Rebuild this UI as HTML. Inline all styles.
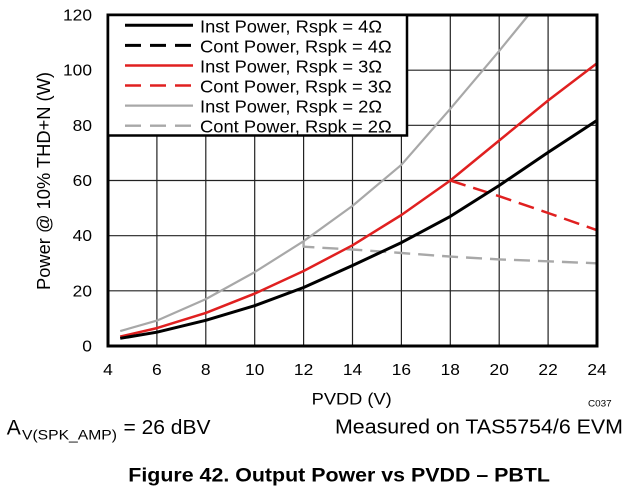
<!DOCTYPE html>
<html>
<head>
<meta charset="utf-8">
<style>
  html,body{margin:0;padding:0;background:#fff;}
  svg{display:block;}
  text{font-family:"Liberation Sans", Arial, sans-serif;fill:#000;}
</style>
</head>
<body>
<svg width="633" height="489" viewBox="0 0 633 489" xmlns="http://www.w3.org/2000/svg">
  <rect x="0" y="0" width="633" height="489" fill="#fff"/>
  <!-- grid -->
  <g stroke="#222" stroke-width="1.2">
    <line x1="156.9" y1="15" x2="156.9" y2="346"/>
    <line x1="205.8" y1="15" x2="205.8" y2="346"/>
    <line x1="254.7" y1="15" x2="254.7" y2="346"/>
    <line x1="303.6" y1="15" x2="303.6" y2="346"/>
    <line x1="352.5" y1="15" x2="352.5" y2="346"/>
    <line x1="401.4" y1="15" x2="401.4" y2="346"/>
    <line x1="450.3" y1="15" x2="450.3" y2="346"/>
    <line x1="499.2" y1="15" x2="499.2" y2="346"/>
    <line x1="548.1" y1="15" x2="548.1" y2="346"/>
    <line x1="108" y1="290.8" x2="597" y2="290.8"/>
    <line x1="108" y1="235.7" x2="597" y2="235.7"/>
    <line x1="108" y1="180.5" x2="597" y2="180.5"/>
    <line x1="108" y1="125.3" x2="597" y2="125.3"/>
    <line x1="108" y1="70.2" x2="597" y2="70.2"/>
  </g>

  <!-- series -->
  <g fill="none" stroke-linejoin="round" stroke-linecap="butt">
    <!-- gray inst 2 ohm -->
    <polyline stroke="#a8a8a8" stroke-width="2.2"
      points="120.2,331.1 156.9,320.6 205.8,299.1 254.7,272.1 303.6,241.2 352.5,205.9 401.4,164.8 450.3,108.8 499.2,50.9 528.5,15"/>
    <!-- gray cont 2 ohm -->
    <polyline stroke="#a8a8a8" stroke-width="2.4" stroke-dasharray="16 8"
      points="303.6,241.5 303.6,246.7 352.5,249.5 401.4,253.0 450.3,256.6 499.2,259.4 548.1,261.3 597,263.3"/>
    <!-- red inst 3 ohm -->
    <polyline stroke="#e02020" stroke-width="2.5"
      points="120.2,336.6 156.9,328.1 205.8,312.9 254.7,293.6 303.6,271.0 352.5,245.3 401.4,215.0 450.3,180.5 499.2,140.5 548.1,100.5 597,63.3"/>
    <!-- red cont 3 ohm -->
    <polyline stroke="#e02020" stroke-width="2.5" stroke-dasharray="16 8"
      points="450.3,180.5 499.2,196.2 548.1,213 597,230.2"/>
    <!-- black inst 4 ohm -->
    <polyline stroke="#000" stroke-width="3"
      points="120.2,338.3 156.9,332.2 205.8,320.3 254.7,305.7 303.6,287.5 352.5,265.5 401.4,242.6 450.3,216.4 499.2,185.5 548.1,152.4 597,120.4"/>
  </g>

  <!-- frame -->
  <rect x="108" y="15" width="489" height="331" fill="none" stroke="#000" stroke-width="3"/>

  <!-- legend -->
  <rect x="108" y="15" width="299" height="120.5" fill="#fff" stroke="#000" stroke-width="2.5"/>
  <g fill="none">
    <line x1="125" y1="25.3" x2="193" y2="25.3" stroke="#000" stroke-width="3"/>
    <line x1="125" y1="45.4" x2="193" y2="45.4" stroke="#000" stroke-width="3" stroke-dasharray="16 9"/>
    <line x1="125" y1="65.5" x2="193" y2="65.5" stroke="#e02020" stroke-width="2.5"/>
    <line x1="125" y1="85.5" x2="193" y2="85.5" stroke="#e02020" stroke-width="2.5" stroke-dasharray="16 9"/>
    <line x1="125" y1="105.6" x2="193" y2="105.6" stroke="#a8a8a8" stroke-width="2.2"/>
    <line x1="125" y1="125.7" x2="193" y2="125.7" stroke="#a8a8a8" stroke-width="2.4" stroke-dasharray="16 9"/>
  </g>
  <g font-size="17.5">
    <text x="200" y="32.3" textLength="182" lengthAdjust="spacingAndGlyphs">Inst Power, Rspk = 4Ω</text>
    <text x="200" y="52.4" textLength="191.7" lengthAdjust="spacingAndGlyphs">Cont Power, Rspk = 4Ω</text>
    <text x="200" y="72.5" textLength="182" lengthAdjust="spacingAndGlyphs">Inst Power, Rspk = 3Ω</text>
    <text x="200" y="92.5" textLength="191.7" lengthAdjust="spacingAndGlyphs">Cont Power, Rspk = 3Ω</text>
    <text x="200" y="112.6" textLength="182" lengthAdjust="spacingAndGlyphs">Inst Power, Rspk = 2Ω</text>
    <text x="200" y="132.7" textLength="191.7" lengthAdjust="spacingAndGlyphs">Cont Power, Rspk = 2Ω</text>
  </g>

  <!-- y tick labels -->
  <g font-size="16" text-anchor="end">
    <text x="92" y="20.5" textLength="29" lengthAdjust="spacingAndGlyphs">120</text>
    <text x="92" y="75.7" textLength="29" lengthAdjust="spacingAndGlyphs">100</text>
    <text x="92" y="130.8" textLength="19.3" lengthAdjust="spacingAndGlyphs">80</text>
    <text x="92" y="186" textLength="19.3" lengthAdjust="spacingAndGlyphs">60</text>
    <text x="92" y="241.2" textLength="19.3" lengthAdjust="spacingAndGlyphs">40</text>
    <text x="92" y="296.3" textLength="19.3" lengthAdjust="spacingAndGlyphs">20</text>
    <text x="92" y="351.5" textLength="9.7" lengthAdjust="spacingAndGlyphs">0</text>
  </g>

  <!-- x tick labels -->
  <g font-size="16" text-anchor="middle">
    <text x="108" y="375" textLength="9.7" lengthAdjust="spacingAndGlyphs">4</text>
    <text x="156.9" y="375" textLength="9.7" lengthAdjust="spacingAndGlyphs">6</text>
    <text x="205.8" y="375" textLength="9.7" lengthAdjust="spacingAndGlyphs">8</text>
    <text x="254.7" y="375" textLength="19.3" lengthAdjust="spacingAndGlyphs">10</text>
    <text x="303.6" y="375" textLength="19.3" lengthAdjust="spacingAndGlyphs">12</text>
    <text x="352.5" y="375" textLength="19.3" lengthAdjust="spacingAndGlyphs">14</text>
    <text x="401.4" y="375" textLength="19.3" lengthAdjust="spacingAndGlyphs">16</text>
    <text x="450.3" y="375" textLength="19.3" lengthAdjust="spacingAndGlyphs">18</text>
    <text x="499.2" y="375" textLength="19.3" lengthAdjust="spacingAndGlyphs">20</text>
    <text x="548.1" y="375" textLength="19.3" lengthAdjust="spacingAndGlyphs">22</text>
    <text x="597" y="375" textLength="19.3" lengthAdjust="spacingAndGlyphs">24</text>
  </g>

  <!-- axis titles -->
  <text x="311.7" y="404.3" font-size="17" textLength="80" lengthAdjust="spacingAndGlyphs">PVDD (V)</text>
  <text transform="translate(50,181) rotate(-90)" x="0" y="0" font-size="18" text-anchor="middle" textLength="218" lengthAdjust="spacingAndGlyphs">Power @ 10% THD+N (W)</text>
  <text x="588" y="406.7" font-size="9" textLength="23.7" lengthAdjust="spacingAndGlyphs">C037</text>

  <!-- footnotes -->
  <text x="6.7" y="434.3" font-size="21">A</text>
  <text x="22" y="439.3" font-size="14" textLength="95" lengthAdjust="spacingAndGlyphs">V(SPK_AMP)</text>
  <text x="123.5" y="434" font-size="20" textLength="87" lengthAdjust="spacingAndGlyphs">= 26 dBV</text>
  <text x="335" y="433.5" font-size="20.5" textLength="288" lengthAdjust="spacingAndGlyphs">Measured on TAS5754/6 EVM</text>

  <!-- caption -->
  <text x="128.3" y="481.7" font-size="19.5" font-weight="bold" textLength="421.7" lengthAdjust="spacingAndGlyphs">Figure 42. Output Power vs PVDD – PBTL</text>
</svg>
</body>
</html>
